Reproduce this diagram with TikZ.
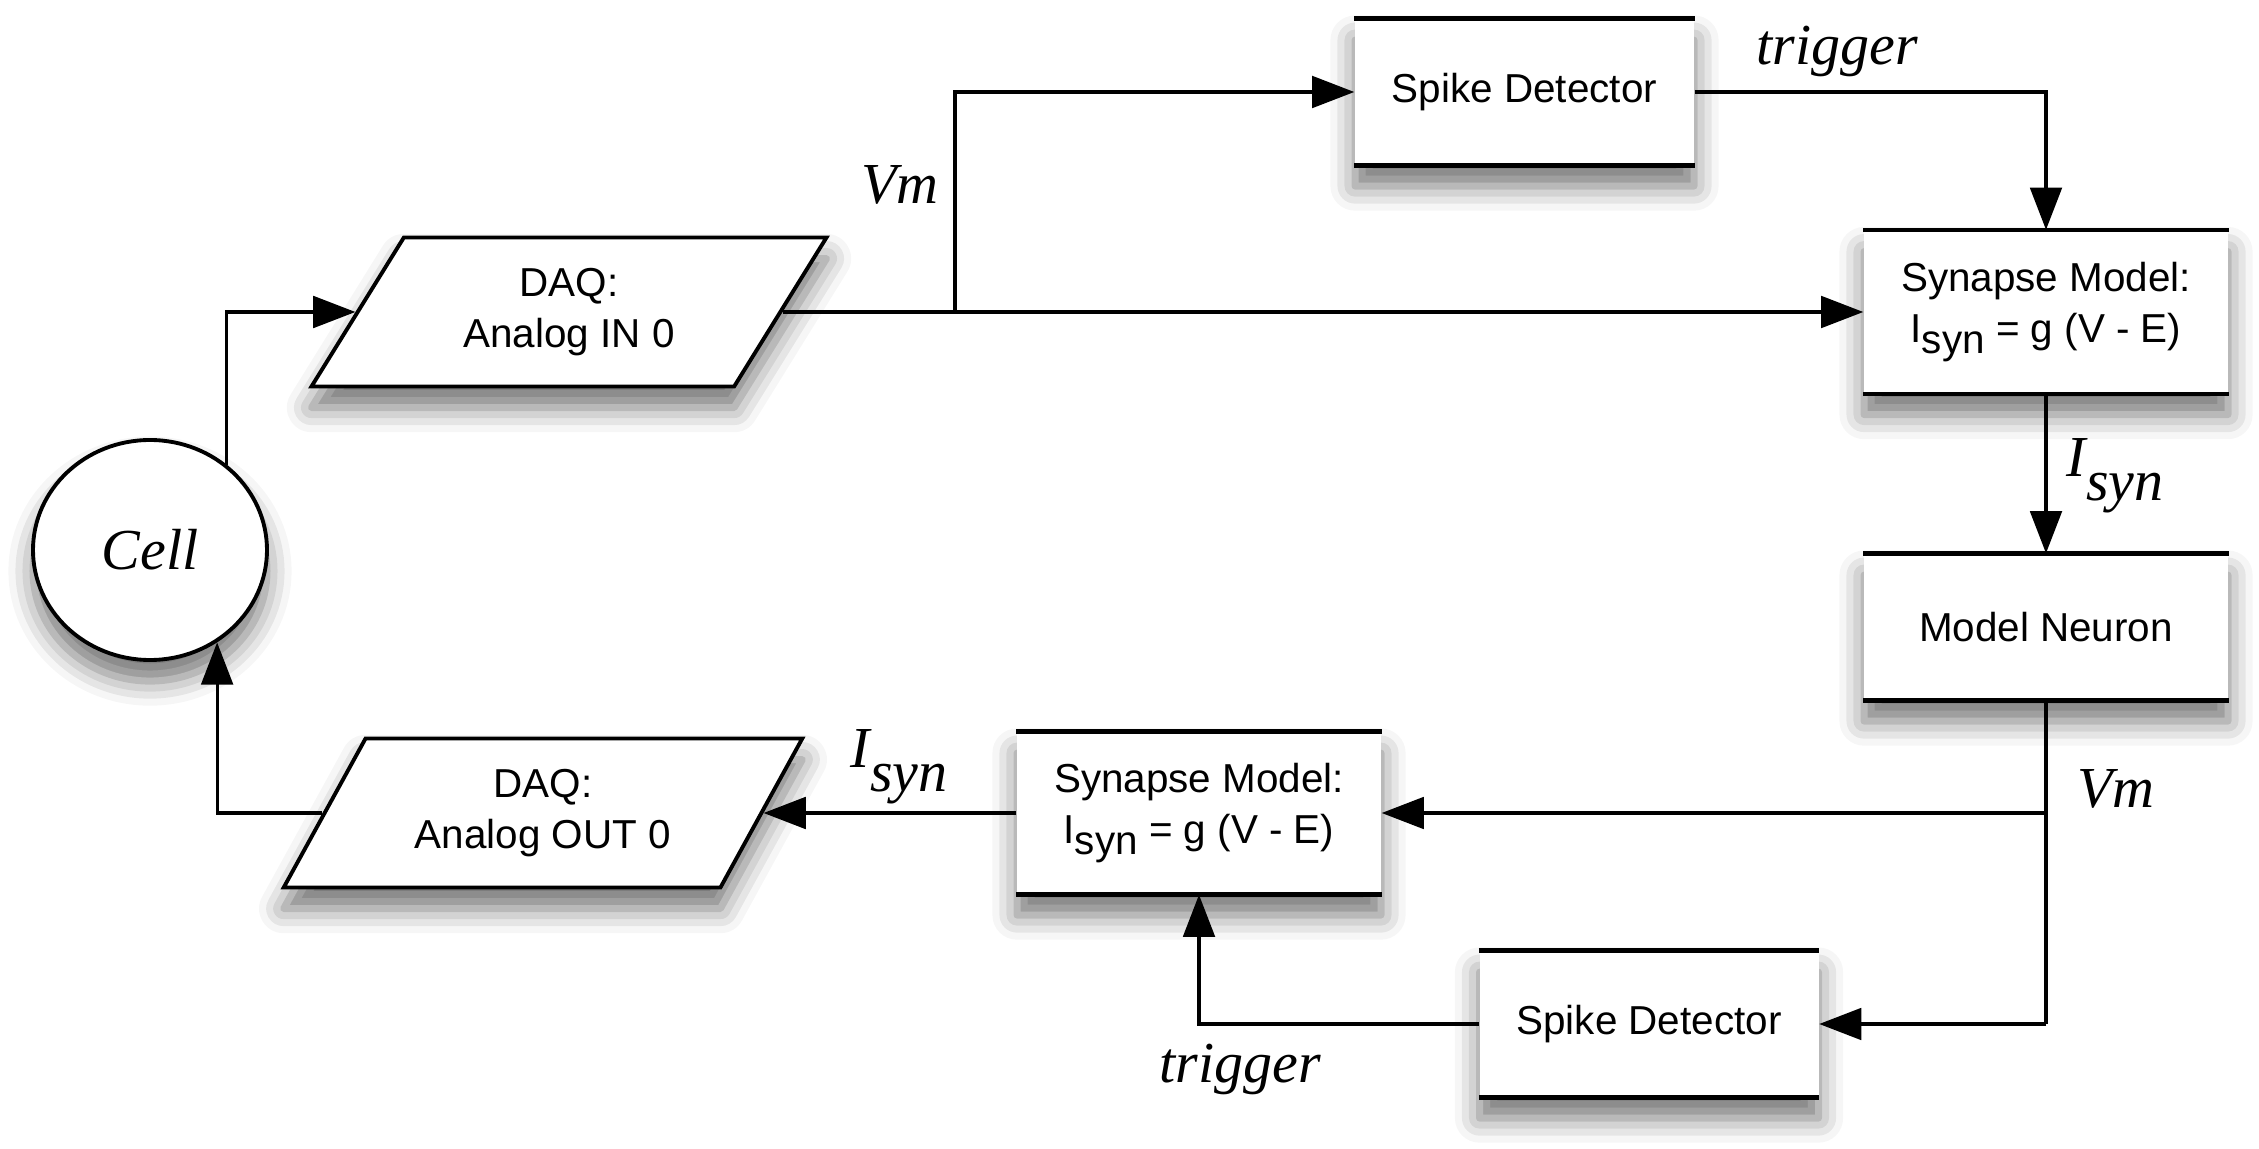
\documentclass[tikz,border=0pt]{standalone}
\usepackage{fontspec}
\newfontfamily\boxfont{Liberation Sans}
\newfontfamily\lblfont{Liberation Serif}
\usetikzlibrary{arrows.meta,shapes.geometric,shadows.blur,positioning}

\tikzset{
  dropshadow/.style={blur shadow={shadow xshift=0pt, shadow yshift=-6pt, shadow blur radius=7pt, shadow opacity=55}},
  block/.style={rectangle, fill=white, inner sep=0pt, minimum width=3.64cm, minimum height=1.46cm,
    align=center, font=\boxfont\fontsize{11.5}{14.5}\selectfont, dropshadow},
  daq/.style={trapezium, trapezium left angle=56, trapezium right angle=124, trapezium stretches=true,
    draw, line width=1.1pt, fill=white, inner sep=0pt, minimum width=5.19cm, minimum height=1.49cm,
    align=center, font=\boxfont\fontsize{11.5}{14.5}\selectfont, dropshadow},
  cellnode/.style={ellipse, draw, line width=1.1pt, fill=white, minimum width=2.34cm, minimum height=2.2cm,
    font=\lblfont\itshape\fontsize{16.5}{19}\selectfont, dropshadow},
  wire/.style={line width=0.9pt, -{Triangle[length=12pt,width=9pt]}},
  link/.style={line width=0.9pt},
  edgerule/.style={line width=1.3pt, line cap=butt},
  lbl/.style={font=\lblfont\itshape\fontsize{16.5}{19}\selectfont}
}

\begin{document}
\begin{tikzpicture}
\useasboundingbox (0,0) rectangle (22.59,11.48);

% the shapes
\node[cellnode] (cell) at (1.50,5.98) {Cell};
\node[daq] (daqin) at (5.69,8.36) {DAQ:\\Analog IN 0};
\node[block, minimum width=3.39cm] (spike1) at (15.245,10.56) {Spike Detector};
\node[block, minimum height=1.63cm] (synin) at (20.46,8.36) {Synapse Model:\\I\raisebox{-0.5ex}{syn} = g (V - E)};
\node[block] (neuron) at (20.46,5.21) {Model Neuron};
\node[block, minimum height=1.62cm] (synout) at (11.99,3.35) {Synapse Model:\\I\raisebox{-0.5ex}{syn} = g (V - E)};
\node[block, minimum width=3.39cm] (spike2) at (16.49,1.24) {Spike Detector};
\node[daq] (daqout) at (5.43,3.35) {DAQ:\\Analog OUT 0};

% top and bottom rules of the blocks
\foreach \b in {spike1,synin,neuron,synout,spike2}
  \draw[edgerule] (\b.north west) -- (\b.north east) (\b.south west) -- (\b.south east);

% branch points
\coordinate (vmtap) at (9.55,8.36);
\coordinate (vmsplit) at (neuron.south |- synout.east);
\coordinate (vmdrop) at (neuron.south |- spike2.east);

% connectors
\draw[wire] (cell.48) |- (daqin.left side);
\draw[wire] (daqin.right side) -- (synin.west);
\draw[wire] (vmtap) |- (spike1.west);
\draw[wire] (spike1.east) -| (synin.north);
\draw[wire] (synin.south) -- (neuron.north);
\draw[link] (neuron.south) -- (vmdrop);
\draw[wire] (vmdrop) -- (spike2.east);
\draw[wire] (vmsplit) -- (synout.east);
\draw[wire] (spike2.west) -| (synout.south);
\draw[wire] (synout.west) -- (daqout.right side);
\draw[wire] (daqout.left side) -| (cell.-54);

% labels
\node[lbl] (vmtop) at (9.00,9.63) {Vm};
\node[lbl] (trigtop) at (18.37,10.97) {trigger};
\node[lbl] (isyntop) at (21.15,6.72) {I\raisebox{-0.9ex}{syn}};
\node[lbl] (vmbot) at (21.16,3.59) {Vm};
\node[lbl] (trigbot) at (12.40,0.79) {trigger};
\node[lbl] (isynbot) at (8.99,3.81) {I\raisebox{-0.9ex}{syn}};
\end{tikzpicture}
\end{document}
